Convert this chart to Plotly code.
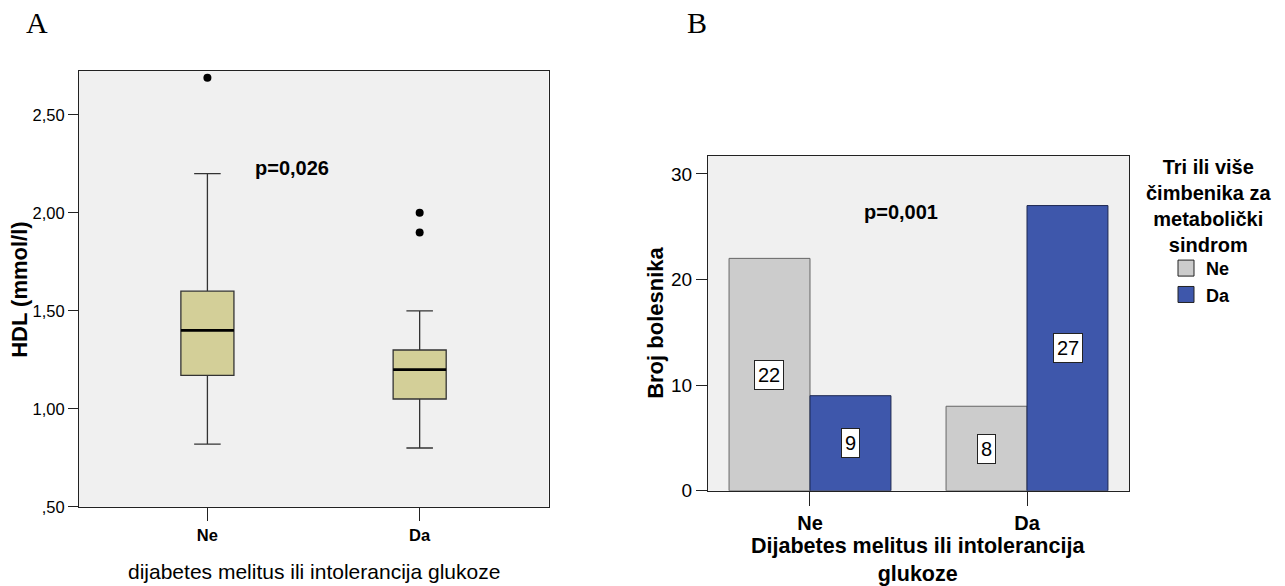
import plotly.graph_objects as go

# ---------------- data ----------------
groups = ["Ne", "Da"]

# Panel A: HDL box plot summary statistics
hdl_q1 = [1.17, 1.05]
hdl_median = [1.40, 1.20]
hdl_q3 = [1.60, 1.30]
hdl_lower = [0.82, 0.80]
hdl_upper = [2.20, 1.50]
outlier_groups = ["Ne", "Da", "Da"]
outlier_values = [2.69, 2.00, 1.90]
hdl_tick_vals = [0.5, 1.0, 1.5, 2.0, 2.5]
hdl_tick_text = [",50", "1,00", "1,50", "2,00", "2,50"]

# Panel B: counts by metabolic syndrome (Ne / Da)
series_names = ["Ne", "Da"]
counts_ms_ne = [22, 8]
counts_ms_da = [9, 27]
count_tick_vals = [0, 10, 20, 30]

legend_title = "Tri ili više<br>čimbenika za<br>metabolički<br>sindrom"

W, H = 1285, 586
VSCALE = 0.9817  # observed vertical scaling of the rendered page
FONT = "Liberation Sans, Arial, sans-serif"
SERIF = "Liberation Serif, Times New Roman, serif"
GRAY = "#CCCCCC"
BLUE = "#3E57AB"


def fx(p):
    return p / W


def fy(p):
    return 1 - (p / VSCALE) / H


def font(size, bold=False, family=FONT):
    d = dict(family=family, size=size, color="black")
    if bold:
        d["weight"] = "bold"
    return d


fig = go.Figure()

# ---------- Panel A ----------
fig.add_trace(go.Box(
    x=groups, q1=hdl_q1, median=hdl_median, q3=hdl_q3,
    lowerfence=hdl_lower, upperfence=hdl_upper,
    xaxis="x", yaxis="y", width=0.25, whiskerwidth=0.5,
    fillcolor="#D3CF98", line=dict(color="#333333", width=1.3),
    boxpoints=False, showlegend=False, hoverinfo="skip"))
# thicker black median line
fig.add_trace(go.Box(
    x=groups, q1=hdl_median, median=hdl_median, q3=hdl_median,
    lowerfence=hdl_median, upperfence=hdl_median,
    xaxis="x", yaxis="y", width=0.25, whiskerwidth=0,
    fillcolor="rgba(0,0,0,0)", line=dict(color="black", width=2.6),
    boxpoints=False, showlegend=False, hoverinfo="skip"))
fig.add_trace(go.Scatter(
    x=outlier_groups, y=outlier_values, mode="markers", xaxis="x", yaxis="y",
    marker=dict(color="black", size=8), showlegend=False, hoverinfo="skip"))

# ---------- Panel B ----------
fig.add_trace(go.Bar(
    x=groups, y=counts_ms_ne, name=series_names[0], xaxis="x2", yaxis="y2",
    marker=dict(color=GRAY, line=dict(color="#666666", width=1)),
    showlegend=False, hoverinfo="skip"))
fig.add_trace(go.Bar(
    x=groups, y=counts_ms_da, name=series_names[1], xaxis="x2", yaxis="y2",
    marker=dict(color=BLUE, line=dict(color="#1C2750", width=1)),
    showlegend=False, hoverinfo="skip"))
# legend entries
for nm, col in zip(series_names, [GRAY, BLUE]):
    fig.add_trace(go.Scatter(
        x=[None], y=[None], mode="markers", name=nm, xaxis="x2", yaxis="y2",
        marker=dict(symbol="square", size=16, color=col,
                    line=dict(color="#222222", width=1))))

annotations = []
# bar value labels
for vals, shift in [(counts_ms_ne, -40.5), (counts_ms_da, 40.5)]:
    for g, v in zip(groups, vals):
        annotations.append(dict(
            x=g, y=v / 2, xref="x2", yref="y2", xshift=shift, text=str(v),
            showarrow=False, bgcolor="white", bordercolor="#222222",
            borderwidth=1, borderpad=3, font=font(20)))

# p-values
annotations.append(dict(x=0.40, y=2.23, xref="x", yref="y", text="p=0,026",
                        showarrow=False, font=font(20, True)))
annotations.append(dict(x=0.42, y=26.4, xref="x2", yref="y2", text="p=0,001",
                        showarrow=False, font=font(20, True)))


def paper_text(text, x, y, f, angle=0):
    annotations.append(dict(x=fx(x), y=fy(y), xref="paper", yref="paper",
                            xanchor="center", yanchor="middle", text=text,
                            textangle=angle, showarrow=False, font=f))


# axis titles
paper_text("HDL (mmol/l)", 20, 290, font(22, True), -90)
paper_text("dijabetes melitus ili intolerancija glukoze", 314, 572, font(21))
paper_text("Broj bolesnika", 656, 323, font(22, True), -90)
paper_text("Dijabetes melitus ili intolerancija<br>glukoze", 918, 560, font(21.5, True))

# legend title
paper_text(legend_title, 1208, 206, font(20, True))

# panel letters
paper_text("A", 37, 23, font(30, family=SERIF))
paper_text("B", 697, 23, font(30, family=SERIF))

axis_common = dict(showline=True, mirror=True, linecolor="#222222", linewidth=1,
                   showgrid=False, zeroline=False, ticks="outside",
                   tickcolor="#222222", tickwidth=1)

fig.update_layout(
    width=W, height=H, margin=dict(l=0, r=0, t=0, b=0),
    paper_bgcolor="white", plot_bgcolor="#F0F0F0",
    barmode="group", bargap=0.254, bargroupgap=0,
    xaxis=dict(domain=[fx(79), fx(548.5)], anchor="y", type="category",
               range=[-0.605, 1.607], ticklen=13,
               tickfont=font(16.5, True), **axis_common),
    yaxis=dict(domain=[fy(507), fy(71)], anchor="x", range=[0.5, 2.724],
               tickvals=hdl_tick_vals, ticktext=hdl_tick_text, ticklen=10,
               tickfont=font(16.5), **axis_common),
    xaxis2=dict(domain=[fx(708), fx(1129)], anchor="y2", type="category",
                range=[-0.47, 1.47], ticklen=14,
                tickfont=font(20, True), **axis_common),
    yaxis2=dict(domain=[fy(491), fy(156)], anchor="x2", range=[0, 31.7],
                tickvals=count_tick_vals, ticklen=11,
                tickfont=font(19), **axis_common),
    legend=dict(x=fx(1166), y=fy(250), xanchor="left", yanchor="top",
                font=font(18, True), bgcolor="rgba(0,0,0,0)", tracegroupgap=0),
    annotations=annotations,
    font=dict(family=FONT, color="black"),
)

fig.write_html(
    "out.html",
    config={"displayModeBar": False},
    post_script=("document.documentElement.style.margin='0';"
                 "document.documentElement.style.overflow='hidden';"
                 "document.body.style.margin='0';"
                 "document.body.style.overflow='hidden';"),
)
